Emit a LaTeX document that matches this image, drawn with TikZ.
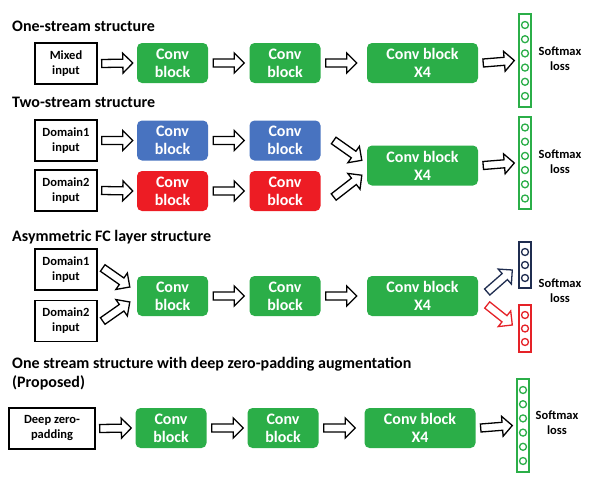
\documentclass[tikz,border=0pt]{standalone}
\usepackage{fontspec}
\setmainfont{Carlito}
\usetikzlibrary{calc}
\definecolor{convgreen}{RGB}{43,174,72}
\definecolor{convblue}{RGB}{72,115,192}
\definecolor{convred}{RGB}{237,28,36}
\definecolor{navy}{RGB}{31,45,80}
\definecolor{smred}{RGB}{229,34,40}
\begin{document}
\begin{tikzpicture}[x=1pt,y=-1pt,
  title/.style={anchor=base west,inner sep=0pt,align=left,font=\bfseries\fontsize{16}{19}\selectfont},
  inbox/.style={draw,line width=1.4pt,minimum width=62pt,minimum height=41pt,inner sep=0pt,align=center,font=\bfseries\fontsize{12.5}{15}\selectfont},
  conv/.style={fill=#1,text=white,rounded corners=5pt,minimum width=71pt,minimum height=40pt,inner sep=0pt,align=center,font=\bfseries\fontsize{16}{18}\selectfont},
  conv/.default=convgreen,
  convx/.style={conv,minimum width=111pt},
  smcol/.style={draw=#1,line width=1.4pt,fill=white,minimum width=12pt,inner sep=0pt},
  smtext/.style={align=center,font=\bfseries\fontsize{12.5}{15}\selectfont},
  fat/.style={draw=#1,fill=white,line width=1.3pt,line join=miter,
    to path={let \p1=(\tikztostart), \p2=(\tikztotarget), \p3=($(\p2)!10pt!(\p1)$) in
      ($(\p1)!4pt!90:(\p2)$) -- ($(\p3)!4pt!90:(\p2)$) -- ($(\p3)!10pt!90:(\p2)$) -- (\p2)
      -- ($(\p3)!10pt!-90:(\p2)$) -- ($(\p3)!4pt!-90:(\p2)$) -- ($(\p1)!4pt!-90:(\p2)$) -- cycle}},
  fat/.default=black]
  \useasboundingbox (0,0) rectangle (589,479);

  % one-stream
  \node[title] (t1) at (12,31.5) {One-stream structure};
  \node[inbox] (in1) at (66,63.5) {Mixed\\input};
  \node[conv] (c11) at (172.5,63) {Conv\\block};
  \node[conv] (c12) at (285,63) {Conv\\block};
  \node[convx] (c13) at (422.5,63) {Conv block\\X4};
  \node[smcol=convgreen,minimum height=93pt] (sm1) at (525,60.5) {};
  \foreach \i in {0,...,5} \draw[convgreen,line width=1.3pt,fill=white] ([yshift={(\i-2.5)*14.2pt}]sm1.center) circle (3.5pt);
  \node[smtext] (l1) at (560,59) {Softmax\\loss};
  \draw[fat] ([xshift=4pt]in1.east) to ([xshift=-4pt]c11.west);
  \draw[fat] ([xshift=5pt]c11.east) to ([xshift=-5pt]c12.west);
  \draw[fat] ([xshift=5pt]c12.east) to ([xshift=-10pt]c13.west);
  \draw[fat] ([xshift=5pt]c13.east) to ([xshift=-4pt]sm1.west);

  % two-stream
  \node[title] (t2) at (12,107) {Two-stream structure};
  \node[inbox] (d21) at (66,140.5) {Domain1\\input};
  \node[inbox] (d22) at (66,190.5) {Domain2\\input};
  \node[conv=convblue] (b21) at (172.5,140.5) {Conv\\block};
  \node[conv=convblue] (b22) at (285,140.5) {Conv\\block};
  \node[conv=convred] (r21) at (172.5,191) {Conv\\block};
  \node[conv=convred] (r22) at (285,191) {Conv\\block};
  \node[convx] (c23) at (422.5,165.5) {Conv block\\X4};
  \node[smcol=convgreen,minimum height=92pt] (sm2) at (525,163) {};
  \foreach \i in {0,...,5} \draw[convgreen,line width=1.3pt,fill=white] ([yshift={(\i-2.5)*14.2pt}]sm2.center) circle (3.5pt);
  \node[smtext] (l2) at (560,162) {Softmax\\loss};
  \draw[fat] ([xshift=4pt]d21.east) to ([xshift=-4pt]b21.west);
  \draw[fat] ([xshift=5pt]b21.east) to ([xshift=-5pt]b22.west);
  \draw[fat] ([xshift=4pt]d22.east) to ([xshift=-4pt]r21.west);
  \draw[fat] ([xshift=5pt]r21.east) to ([xshift=-5pt]r22.west);
  \draw[fat] ([xshift=13pt]b22.east) to ([shift={(-5pt,-15pt)}]c23.north west);
  \draw[fat] ([shift={(13pt,-6pt)}]r22.east) to ([shift={(-5pt,10.5pt)}]c23.south west);
  \draw[fat] ([xshift=5pt]c23.east) to ([xshift=-4pt]sm2.west);

  % asymmetric FC
  \node[title] (t3) at (12,241) {Asymmetric FC layer structure};
  \node[inbox] (d31) at (66,269.5) {Domain1\\input};
  \node[inbox] (d32) at (66,321) {Domain2\\input};
  \node[conv] (c31) at (172.5,296) {Conv\\block};
  \node[conv] (c32) at (285,296) {Conv\\block};
  \node[convx] (c33) at (422.5,296) {Conv block\\X4};
  \node[smcol=navy,minimum height=46pt] (sm3a) at (525,265) {};
  \node[smcol=smred,minimum height=47pt] (sm3b) at (525,328.5) {};
  \foreach \i in {-1,0,1} {
    \draw[navy,line width=1.3pt,fill=white] ([yshift=\i*13pt]sm3a.center) circle (3.5pt);
    \draw[smred,line width=1.3pt,fill=white] ([yshift=\i*13.5pt]sm3b.center) circle (3.5pt);
  }
  \node[smtext] (l3) at (560,291) {Softmax\\loss};
  \draw[fat] ([shift={(5pt,1.5pt)}]d31.east) to ([shift={(-7pt,9pt)}]c31.west);
  \draw[fat] ([xshift=5pt]d32.east) to ([shift={(-7pt,-6pt)}]c31.west);
  \draw[fat] ([xshift=5pt]c31.east) to ([xshift=-5pt]c32.west);
  \draw[fat] ([xshift=5pt]c32.east) to ([xshift=-10pt]c33.west);
  \draw[fat=navy] ([shift={(9pt,4pt)}]c33.east) to ([shift={(-6pt,-5pt)}]sm3a.west);
  \draw[fat=smred] ([shift={(9pt,-9pt)}]c33.east) to ([shift={(-6pt,3.5pt)}]sm3b.west);

  % proposed
  \node[title] (t4) at (12,387) {One stream structure with deep zero-padding augmentation\\(Proposed)};
  \node[inbox,minimum width=86pt] (in4) at (52,428.5) {Deep zero-\\padding};
  \node[conv] (c41) at (171,428) {Conv\\block};
  \node[conv] (c42) at (283,428) {Conv\\block};
  \node[convx] (c43) at (420,428) {Conv block\\X4};
  \node[smcol=convgreen,minimum height=93pt] (sm4) at (523,425.5) {};
  \foreach \i in {0,...,5} \draw[convgreen,line width=1.3pt,fill=white] ([yshift={(\i-2.5)*14.2pt}]sm4.center) circle (3.5pt);
  \node[smtext] (l4) at (557,423) {Softmax\\loss};
  \draw[fat] ([xshift=4pt]in4.east) to ([xshift=-4pt]c41.west);
  \draw[fat] ([xshift=5pt]c41.east) to ([xshift=-4pt]c42.west);
  \draw[fat] ([xshift=5pt]c42.east) to ([xshift=-9pt]c43.west);
  \draw[fat] ([xshift=5pt]c43.east) to ([xshift=-4pt]sm4.west);
\end{tikzpicture}
\end{document}
